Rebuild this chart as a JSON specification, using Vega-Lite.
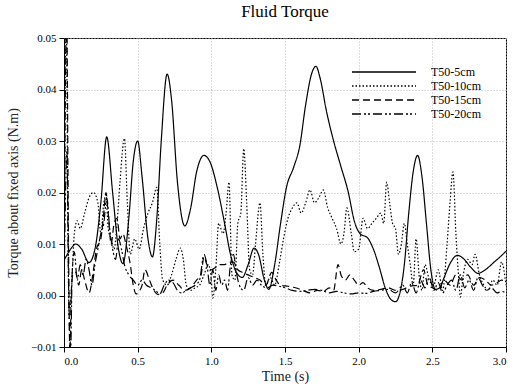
{
"$schema":"https://vega.github.io/schema/vega-lite/v6.json",
"width":442,"height":309,
"autosize":{"type":"none"},
"padding":{"left":64,"top":38,"right":9,"bottom":43},
"background":"white",
"title":{"text":"Fluid Torque","fontSize":17,"fontWeight":"normal","font":"Liberation Serif","color":"black","offset":11},
"config":{"font":"Liberation Serif","view":{"stroke":"black","strokeWidth":1},
"axis":{"labelFont":"Liberation Serif","titleFont":"Liberation Serif","labelFontSize":11,"titleFontSize":14,"titleFontWeight":"normal","labelColor":"black","titleColor":"#222","domainColor":"black","tickColor":"black","tickSize":5,"labelPadding":3,"gridColor":"#bbb","gridDash":[1,2],"gridWidth":1}},
"data":{"values":[
{"s":"T50-5cm","t":0.00,"v":0.0068},{"s":"T50-5cm","t":0.04,"v":0.0088},{"s":"T50-5cm","t":0.08,"v":0.0100},{"s":"T50-5cm","t":0.12,"v":0.0090},{"s":"T50-5cm","t":0.17,"v":0.0064},{"s":"T50-5cm","t":0.21,"v":0.0090},{"s":"T50-5cm","t":0.25,"v":0.0180},{"s":"T50-5cm","t":0.29,"v":0.0308},{"s":"T50-5cm","t":0.33,"v":0.0200},{"s":"T50-5cm","t":0.37,"v":0.0090},{"s":"T50-5cm","t":0.40,"v":0.0062},{"s":"T50-5cm","t":0.44,"v":0.0150},{"s":"T50-5cm","t":0.47,"v":0.0260},{"s":"T50-5cm","t":0.50,"v":0.0300},{"s":"T50-5cm","t":0.53,"v":0.0230},{"s":"T50-5cm","t":0.57,"v":0.0110},{"s":"T50-5cm","t":0.60,"v":0.0075},{"s":"T50-5cm","t":0.63,"v":0.0150},{"s":"T50-5cm","t":0.66,"v":0.0300},{"s":"T50-5cm","t":0.70,"v":0.0430},{"s":"T50-5cm","t":0.73,"v":0.0380},{"s":"T50-5cm","t":0.77,"v":0.0220},{"s":"T50-5cm","t":0.82,"v":0.0135},{"s":"T50-5cm","t":0.86,"v":0.0170},{"s":"T50-5cm","t":0.90,"v":0.0240},{"s":"T50-5cm","t":0.95,"v":0.0272},{"s":"T50-5cm","t":0.99,"v":0.0260},{"s":"T50-5cm","t":1.04,"v":0.0210},{"s":"T50-5cm","t":1.09,"v":0.0140},{"s":"T50-5cm","t":1.13,"v":0.0080},{"s":"T50-5cm","t":1.17,"v":0.0045},{"s":"T50-5cm","t":1.21,"v":0.0035},{"s":"T50-5cm","t":1.25,"v":0.0060},{"s":"T50-5cm","t":1.29,"v":0.0092},{"s":"T50-5cm","t":1.32,"v":0.0080},{"s":"T50-5cm","t":1.36,"v":0.0030},{"s":"T50-5cm","t":1.39,"v":0.0012},{"s":"T50-5cm","t":1.43,"v":0.0060},{"s":"T50-5cm","t":1.47,"v":0.0140},{"s":"T50-5cm","t":1.51,"v":0.0210},{"s":"T50-5cm","t":1.56,"v":0.0250},{"s":"T50-5cm","t":1.60,"v":0.0290},{"s":"T50-5cm","t":1.64,"v":0.0370},{"s":"T50-5cm","t":1.68,"v":0.0430},{"s":"T50-5cm","t":1.71,"v":0.0445},{"s":"T50-5cm","t":1.74,"v":0.0420},{"s":"T50-5cm","t":1.78,"v":0.0360},{"s":"T50-5cm","t":1.83,"v":0.0300},{"s":"T50-5cm","t":1.88,"v":0.0250},{"s":"T50-5cm","t":1.93,"v":0.0200},{"s":"T50-5cm","t":1.97,"v":0.0145},{"s":"T50-5cm","t":2.01,"v":0.0120},{"s":"T50-5cm","t":2.06,"v":0.0112},{"s":"T50-5cm","t":2.10,"v":0.0090},{"s":"T50-5cm","t":2.14,"v":0.0055},{"s":"T50-5cm","t":2.18,"v":0.0015},{"s":"T50-5cm","t":2.22,"v":-0.0008},{"s":"T50-5cm","t":2.25,"v":-0.0012},{"s":"T50-5cm","t":2.28,"v":0.0005},{"s":"T50-5cm","t":2.31,"v":0.0060},{"s":"T50-5cm","t":2.34,"v":0.0160},{"s":"T50-5cm","t":2.37,"v":0.0240},{"s":"T50-5cm","t":2.40,"v":0.0272},{"s":"T50-5cm","t":2.43,"v":0.0230},{"s":"T50-5cm","t":2.46,"v":0.0140},{"s":"T50-5cm","t":2.49,"v":0.0050},{"s":"T50-5cm","t":2.52,"v":0.0012},{"s":"T50-5cm","t":2.55,"v":0.0015},{"s":"T50-5cm","t":2.58,"v":0.0035},{"s":"T50-5cm","t":2.62,"v":0.0062},{"s":"T50-5cm","t":2.67,"v":0.0078},{"s":"T50-5cm","t":2.71,"v":0.0072},{"s":"T50-5cm","t":2.76,"v":0.0055},{"s":"T50-5cm","t":2.81,"v":0.0043},{"s":"T50-5cm","t":2.86,"v":0.0050},{"s":"T50-5cm","t":2.92,"v":0.0065},{"s":"T50-5cm","t":2.96,"v":0.0075},{"s":"T50-5cm","t":3.00,"v":0.0086},
{"s":"T50-10cm","t":0.000,"v":0.0},{"s":"T50-10cm","t":0.015,"v":0.055},{"s":"T50-10cm","t":0.025,"v":0.02},{"s":"T50-10cm","t":0.035,"v":-0.004},{"s":"T50-10cm","t":0.05,"v":0.001},{"s":"T50-10cm","t":0.07,"v":0.012},{"s":"T50-10cm","t":0.09,"v":0.0145},{"s":"T50-10cm","t":0.11,"v":0.013},{"s":"T50-10cm","t":0.14,"v":0.016},{"s":"T50-10cm","t":0.17,"v":0.019},{"s":"T50-10cm","t":0.20,"v":0.020},{"s":"T50-10cm","t":0.23,"v":0.018},{"s":"T50-10cm","t":0.25,"v":0.012},{"s":"T50-10cm","t":0.27,"v":0.018},{"s":"T50-10cm","t":0.285,"v":0.0195},{"s":"T50-10cm","t":0.30,"v":0.013},{"s":"T50-10cm","t":0.32,"v":0.011},{"s":"T50-10cm","t":0.34,"v":0.009},{"s":"T50-10cm","t":0.36,"v":0.014},{"s":"T50-10cm","t":0.38,"v":0.022},{"s":"T50-10cm","t":0.41,"v":0.0305},{"s":"T50-10cm","t":0.43,"v":0.018},{"s":"T50-10cm","t":0.45,"v":0.008},{"s":"T50-10cm","t":0.48,"v":0.011},{"s":"T50-10cm","t":0.51,"v":0.009},{"s":"T50-10cm","t":0.54,"v":0.013},{"s":"T50-10cm","t":0.57,"v":0.016},{"s":"T50-10cm","t":0.60,"v":0.018},{"s":"T50-10cm","t":0.63,"v":0.021},{"s":"T50-10cm","t":0.65,"v":0.010},{"s":"T50-10cm","t":0.67,"v":0.003},{"s":"T50-10cm","t":0.70,"v":0.002},{"s":"T50-10cm","t":0.73,"v":0.004},{"s":"T50-10cm","t":0.76,"v":0.007},{"s":"T50-10cm","t":0.79,"v":0.0092},{"s":"T50-10cm","t":0.81,"v":0.007},{"s":"T50-10cm","t":0.83,"v":0.002},{"s":"T50-10cm","t":0.86,"v":0.001},{"s":"T50-10cm","t":0.89,"v":0.0015},{"s":"T50-10cm","t":0.92,"v":0.002},{"s":"T50-10cm","t":0.95,"v":0.004},{"s":"T50-10cm","t":0.98,"v":0.006},{"s":"T50-10cm","t":1.00,"v":0.003},{"s":"T50-10cm","t":1.01,"v":-0.0005},{"s":"T50-10cm","t":1.03,"v":0.005},{"s":"T50-10cm","t":1.05,"v":0.014},{"s":"T50-10cm","t":1.08,"v":0.012},{"s":"T50-10cm","t":1.10,"v":0.016},{"s":"T50-10cm","t":1.12,"v":0.022},{"s":"T50-10cm","t":1.14,"v":0.004},{"s":"T50-10cm","t":1.16,"v":0.003},{"s":"T50-10cm","t":1.18,"v":0.014},{"s":"T50-10cm","t":1.20,"v":0.016},{"s":"T50-10cm","t":1.22,"v":0.0285},{"s":"T50-10cm","t":1.24,"v":0.018},{"s":"T50-10cm","t":1.26,"v":0.005},{"s":"T50-10cm","t":1.28,"v":0.004},{"s":"T50-10cm","t":1.30,"v":0.010},{"s":"T50-10cm","t":1.33,"v":0.018},{"s":"T50-10cm","t":1.35,"v":0.008},{"s":"T50-10cm","t":1.37,"v":0.002},{"s":"T50-10cm","t":1.40,"v":0.0035},{"s":"T50-10cm","t":1.43,"v":0.002},{"s":"T50-10cm","t":1.46,"v":0.006},{"s":"T50-10cm","t":1.49,"v":0.011},{"s":"T50-10cm","t":1.52,"v":0.015},{"s":"T50-10cm","t":1.55,"v":0.017},{"s":"T50-10cm","t":1.58,"v":0.018},{"s":"T50-10cm","t":1.61,"v":0.016},{"s":"T50-10cm","t":1.64,"v":0.018},{"s":"T50-10cm","t":1.67,"v":0.0205},{"s":"T50-10cm","t":1.70,"v":0.018},{"s":"T50-10cm","t":1.73,"v":0.019},{"s":"T50-10cm","t":1.76,"v":0.0205},{"s":"T50-10cm","t":1.79,"v":0.017},{"s":"T50-10cm","t":1.82,"v":0.015},{"s":"T50-10cm","t":1.85,"v":0.013},{"s":"T50-10cm","t":1.88,"v":0.010},{"s":"T50-10cm","t":1.90,"v":0.012},{"s":"T50-10cm","t":1.92,"v":0.017},{"s":"T50-10cm","t":1.95,"v":0.012},{"s":"T50-10cm","t":1.97,"v":0.0085},{"s":"T50-10cm","t":2.00,"v":0.009},{"s":"T50-10cm","t":2.03,"v":0.015},{"s":"T50-10cm","t":2.06,"v":0.013},{"s":"T50-10cm","t":2.09,"v":0.014},{"s":"T50-10cm","t":2.12,"v":0.015},{"s":"T50-10cm","t":2.15,"v":0.016},{"s":"T50-10cm","t":2.17,"v":0.014},{"s":"T50-10cm","t":2.19,"v":0.022},{"s":"T50-10cm","t":2.21,"v":0.018},{"s":"T50-10cm","t":2.23,"v":0.014},{"s":"T50-10cm","t":2.25,"v":0.013},{"s":"T50-10cm","t":2.27,"v":0.008},{"s":"T50-10cm","t":2.29,"v":0.010},{"s":"T50-10cm","t":2.31,"v":0.014},{"s":"T50-10cm","t":2.33,"v":0.010},{"s":"T50-10cm","t":2.35,"v":0.006},{"s":"T50-10cm","t":2.37,"v":0.002},{"s":"T50-10cm","t":2.39,"v":0.011},{"s":"T50-10cm","t":2.41,"v":0.004},{"s":"T50-10cm","t":2.43,"v":0.001},{"s":"T50-10cm","t":2.45,"v":0.006},{"s":"T50-10cm","t":2.48,"v":0.003},{"s":"T50-10cm","t":2.51,"v":0.002},{"s":"T50-10cm","t":2.54,"v":0.005},{"s":"T50-10cm","t":2.57,"v":0.001},{"s":"T50-10cm","t":2.60,"v":0.010},{"s":"T50-10cm","t":2.62,"v":0.018},{"s":"T50-10cm","t":2.64,"v":0.024},{"s":"T50-10cm","t":2.66,"v":0.012},{"s":"T50-10cm","t":2.68,"v":0.003},{"s":"T50-10cm","t":2.69,"v":-0.0003},{"s":"T50-10cm","t":2.71,"v":0.004},{"s":"T50-10cm","t":2.74,"v":0.007},{"s":"T50-10cm","t":2.77,"v":0.006},{"s":"T50-10cm","t":2.79,"v":0.008},{"s":"T50-10cm","t":2.82,"v":0.004},{"s":"T50-10cm","t":2.85,"v":0.002},{"s":"T50-10cm","t":2.88,"v":0.001},{"s":"T50-10cm","t":2.91,"v":0.003},{"s":"T50-10cm","t":2.94,"v":0.002},{"s":"T50-10cm","t":2.97,"v":0.0065},{"s":"T50-10cm","t":3.00,"v":0.002},
{"s":"T50-15cm","t":0.00,"v":0.0},{"s":"T50-15cm","t":0.018,"v":0.055},{"s":"T50-15cm","t":0.03,"v":0.012},{"s":"T50-15cm","t":0.04,"v":-0.011},{"s":"T50-15cm","t":0.05,"v":0.001},{"s":"T50-15cm","t":0.06,"v":0.004},{"s":"T50-15cm","t":0.08,"v":0.0045},{"s":"T50-15cm","t":0.10,"v":0.002},{"s":"T50-15cm","t":0.12,"v":0.005},{"s":"T50-15cm","t":0.14,"v":0.003},{"s":"T50-15cm","t":0.17,"v":0.0005},{"s":"T50-15cm","t":0.20,"v":0.005},{"s":"T50-15cm","t":0.22,"v":0.009},{"s":"T50-15cm","t":0.25,"v":0.011},{"s":"T50-15cm","t":0.27,"v":0.016},{"s":"T50-15cm","t":0.285,"v":0.020},{"s":"T50-15cm","t":0.30,"v":0.016},{"s":"T50-15cm","t":0.32,"v":0.010},{"s":"T50-15cm","t":0.34,"v":0.014},{"s":"T50-15cm","t":0.36,"v":0.015},{"s":"T50-15cm","t":0.38,"v":0.011},{"s":"T50-15cm","t":0.40,"v":0.012},{"s":"T50-15cm","t":0.42,"v":0.010},{"s":"T50-15cm","t":0.45,"v":0.006},{"s":"T50-15cm","t":0.47,"v":0.002},{"s":"T50-15cm","t":0.49,"v":0.0003},{"s":"T50-15cm","t":0.51,"v":0.0008},{"s":"T50-15cm","t":0.53,"v":0.002},{"s":"T50-15cm","t":0.55,"v":0.005},{"s":"T50-15cm","t":0.58,"v":0.003},{"s":"T50-15cm","t":0.61,"v":0.001},{"s":"T50-15cm","t":0.64,"v":0.0002},{"s":"T50-15cm","t":0.67,"v":0.0005},{"s":"T50-15cm","t":0.70,"v":0.002},{"s":"T50-15cm","t":0.74,"v":0.003},{"s":"T50-15cm","t":0.78,"v":0.002},{"s":"T50-15cm","t":0.82,"v":0.001},{"s":"T50-15cm","t":0.86,"v":0.0015},{"s":"T50-15cm","t":0.90,"v":0.003},{"s":"T50-15cm","t":0.93,"v":0.004},{"s":"T50-15cm","t":0.95,"v":0.0075},{"s":"T50-15cm","t":0.97,"v":0.006},{"s":"T50-15cm","t":1.00,"v":0.005},{"s":"T50-15cm","t":1.03,"v":0.0055},{"s":"T50-15cm","t":1.06,"v":0.006},{"s":"T50-15cm","t":1.09,"v":0.006},{"s":"T50-15cm","t":1.12,"v":0.0065},{"s":"T50-15cm","t":1.15,"v":0.0065},{"s":"T50-15cm","t":1.18,"v":0.005},{"s":"T50-15cm","t":1.21,"v":0.0045},{"s":"T50-15cm","t":1.25,"v":0.004},{"s":"T50-15cm","t":1.29,"v":0.0035},{"s":"T50-15cm","t":1.33,"v":0.003},{"s":"T50-15cm","t":1.37,"v":0.002},{"s":"T50-15cm","t":1.41,"v":0.0045},{"s":"T50-15cm","t":1.44,"v":0.003},{"s":"T50-15cm","t":1.47,"v":0.002},{"s":"T50-15cm","t":1.52,"v":0.0018},{"s":"T50-15cm","t":1.57,"v":0.0015},{"s":"T50-15cm","t":1.62,"v":0.001},{"s":"T50-15cm","t":1.67,"v":0.0005},{"s":"T50-15cm","t":1.72,"v":0.001},{"s":"T50-15cm","t":1.76,"v":0.0008},{"s":"T50-15cm","t":1.80,"v":0.0015},{"s":"T50-15cm","t":1.83,"v":0.001},{"s":"T50-15cm","t":1.86,"v":0.006},{"s":"T50-15cm","t":1.88,"v":0.004},{"s":"T50-15cm","t":1.91,"v":0.003},{"s":"T50-15cm","t":1.94,"v":0.004},{"s":"T50-15cm","t":1.97,"v":0.003},{"s":"T50-15cm","t":2.00,"v":0.002},{"s":"T50-15cm","t":2.03,"v":0.0025},{"s":"T50-15cm","t":2.06,"v":0.0015},{"s":"T50-15cm","t":2.10,"v":0.001},{"s":"T50-15cm","t":2.15,"v":0.0012},{"s":"T50-15cm","t":2.20,"v":0.0015},{"s":"T50-15cm","t":2.25,"v":0.001},{"s":"T50-15cm","t":2.30,"v":0.0012},{"s":"T50-15cm","t":2.35,"v":0.0018},{"s":"T50-15cm","t":2.40,"v":0.002},{"s":"T50-15cm","t":2.44,"v":0.005},{"s":"T50-15cm","t":2.47,"v":0.002},{"s":"T50-15cm","t":2.50,"v":0.0015},{"s":"T50-15cm","t":2.54,"v":0.001},{"s":"T50-15cm","t":2.58,"v":0.003},{"s":"T50-15cm","t":2.62,"v":0.002},{"s":"T50-15cm","t":2.66,"v":0.004},{"s":"T50-15cm","t":2.70,"v":0.003},{"s":"T50-15cm","t":2.74,"v":0.004},{"s":"T50-15cm","t":2.78,"v":0.002},{"s":"T50-15cm","t":2.82,"v":0.0035},{"s":"T50-15cm","t":2.86,"v":0.003},{"s":"T50-15cm","t":2.90,"v":0.002},{"s":"T50-15cm","t":2.94,"v":0.0025},{"s":"T50-15cm","t":2.97,"v":0.003},{"s":"T50-15cm","t":3.00,"v":0.0025},
{"s":"T50-20cm","t":0.00,"v":0.0},{"s":"T50-20cm","t":0.02,"v":0.028},{"s":"T50-20cm","t":0.03,"v":0.004},{"s":"T50-20cm","t":0.045,"v":-0.011},{"s":"T50-20cm","t":0.055,"v":0.004},{"s":"T50-20cm","t":0.07,"v":0.0085},{"s":"T50-20cm","t":0.09,"v":0.003},{"s":"T50-20cm","t":0.11,"v":0.006},{"s":"T50-20cm","t":0.13,"v":0.004},{"s":"T50-20cm","t":0.15,"v":0.007},{"s":"T50-20cm","t":0.17,"v":0.005},{"s":"T50-20cm","t":0.19,"v":0.002},{"s":"T50-20cm","t":0.21,"v":0.006},{"s":"T50-20cm","t":0.23,"v":0.009},{"s":"T50-20cm","t":0.25,"v":0.012},{"s":"T50-20cm","t":0.27,"v":0.014},{"s":"T50-20cm","t":0.29,"v":0.019},{"s":"T50-20cm","t":0.31,"v":0.013},{"s":"T50-20cm","t":0.33,"v":0.009},{"s":"T50-20cm","t":0.35,"v":0.007},{"s":"T50-20cm","t":0.37,"v":0.011},{"s":"T50-20cm","t":0.39,"v":0.009},{"s":"T50-20cm","t":0.41,"v":0.006},{"s":"T50-20cm","t":0.44,"v":0.004},{"s":"T50-20cm","t":0.47,"v":0.003},{"s":"T50-20cm","t":0.50,"v":0.002},{"s":"T50-20cm","t":0.53,"v":0.003},{"s":"T50-20cm","t":0.56,"v":0.002},{"s":"T50-20cm","t":0.59,"v":0.0015},{"s":"T50-20cm","t":0.62,"v":0.001},{"s":"T50-20cm","t":0.65,"v":0.0003},{"s":"T50-20cm","t":0.68,"v":0.002},{"s":"T50-20cm","t":0.71,"v":0.003},{"s":"T50-20cm","t":0.74,"v":0.0025},{"s":"T50-20cm","t":0.77,"v":0.001},{"s":"T50-20cm","t":0.80,"v":0.0005},{"s":"T50-20cm","t":0.83,"v":0.001},{"s":"T50-20cm","t":0.86,"v":0.0015},{"s":"T50-20cm","t":0.89,"v":0.002},{"s":"T50-20cm","t":0.92,"v":0.003},{"s":"T50-20cm","t":0.95,"v":0.008},{"s":"T50-20cm","t":0.97,"v":0.006},{"s":"T50-20cm","t":0.99,"v":0.002},{"s":"T50-20cm","t":1.01,"v":0.005},{"s":"T50-20cm","t":1.03,"v":0.001},{"s":"T50-20cm","t":1.05,"v":0.004},{"s":"T50-20cm","t":1.07,"v":0.002},{"s":"T50-20cm","t":1.09,"v":0.003},{"s":"T50-20cm","t":1.11,"v":0.001},{"s":"T50-20cm","t":1.13,"v":0.006},{"s":"T50-20cm","t":1.15,"v":0.008},{"s":"T50-20cm","t":1.17,"v":0.0045},{"s":"T50-20cm","t":1.19,"v":0.002},{"s":"T50-20cm","t":1.22,"v":0.001},{"s":"T50-20cm","t":1.25,"v":0.0035},{"s":"T50-20cm","t":1.28,"v":0.002},{"s":"T50-20cm","t":1.31,"v":0.003},{"s":"T50-20cm","t":1.34,"v":0.002},{"s":"T50-20cm","t":1.38,"v":0.0015},{"s":"T50-20cm","t":1.42,"v":0.002},{"s":"T50-20cm","t":1.46,"v":0.0018},{"s":"T50-20cm","t":1.50,"v":0.0015},{"s":"T50-20cm","t":1.55,"v":0.001},{"s":"T50-20cm","t":1.60,"v":0.0008},{"s":"T50-20cm","t":1.65,"v":0.001},{"s":"T50-20cm","t":1.70,"v":0.0012},{"s":"T50-20cm","t":1.75,"v":0.001},{"s":"T50-20cm","t":1.80,"v":0.0005},{"s":"T50-20cm","t":1.85,"v":0.0008},{"s":"T50-20cm","t":1.90,"v":0.0005},{"s":"T50-20cm","t":1.95,"v":0.0003},{"s":"T50-20cm","t":2.00,"v":0.0005},{"s":"T50-20cm","t":2.05,"v":0.0004},{"s":"T50-20cm","t":2.10,"v":0.0008},{"s":"T50-20cm","t":2.15,"v":0.001},{"s":"T50-20cm","t":2.20,"v":0.0012},{"s":"T50-20cm","t":2.25,"v":0.0005},{"s":"T50-20cm","t":2.30,"v":0.002},{"s":"T50-20cm","t":2.33,"v":0.0005},{"s":"T50-20cm","t":2.36,"v":0.0025},{"s":"T50-20cm","t":2.39,"v":0.0005},{"s":"T50-20cm","t":2.42,"v":0.003},{"s":"T50-20cm","t":2.45,"v":0.0015},{"s":"T50-20cm","t":2.48,"v":0.0035},{"s":"T50-20cm","t":2.51,"v":0.001},{"s":"T50-20cm","t":2.54,"v":0.0025},{"s":"T50-20cm","t":2.57,"v":0.0005},{"s":"T50-20cm","t":2.60,"v":0.002},{"s":"T50-20cm","t":2.63,"v":0.003},{"s":"T50-20cm","t":2.66,"v":0.001},{"s":"T50-20cm","t":2.69,"v":0.004},{"s":"T50-20cm","t":2.72,"v":0.0015},{"s":"T50-20cm","t":2.75,"v":0.003},{"s":"T50-20cm","t":2.78,"v":0.001},{"s":"T50-20cm","t":2.81,"v":0.0035},{"s":"T50-20cm","t":2.84,"v":0.002},{"s":"T50-20cm","t":2.87,"v":0.001},{"s":"T50-20cm","t":2.90,"v":0.0015},{"s":"T50-20cm","t":2.94,"v":0.0005},{"s":"T50-20cm","t":2.97,"v":0.0008},{"s":"T50-20cm","t":3.00,"v":0.0005}
]},
"mark":{"type":"line","clip":true,"color":"black","strokeWidth":1.2,"interpolate":"monotone"},
"encoding":{
"x":{"field":"t","type":"quantitative","title":"Time (s)","scale":{"domain":[0,3],"nice":false},"axis":{"values":[0,0.5,1,1.5,2,2.5,3],"format":".1f","titlePadding":3}},
"y":{"field":"v","type":"quantitative","title":"Torque about fixed axis (N.m)","scale":{"domain":[-0.01,0.05],"nice":false},"axis":{"values":[-0.01,0,0.01,0.02,0.03,0.04,0.05],"format":".2f","titlePadding":10}},
"strokeDash":{"field":"s","type":"nominal","sort":["T50-5cm","T50-10cm","T50-15cm","T50-20cm"],"scale":{"domain":["T50-5cm","T50-10cm","T50-15cm","T50-20cm"],"range":[[1,0],[1.5,2],[7,4],[9,3,2,2,2,3]]},
"legend":{"title":null,"orient":"none","legendX":314,"legendY":28,"symbolType":"M-8,0H8","symbolSize":64,"symbolStrokeWidth":1.5,"symbolStrokeColor":"black","labelFontSize":12,"labelFont":"Liberation Serif","labelColor":"black","labelOffset":41,"rowPadding":2}},
"detail":{"field":"s"}
}
}
